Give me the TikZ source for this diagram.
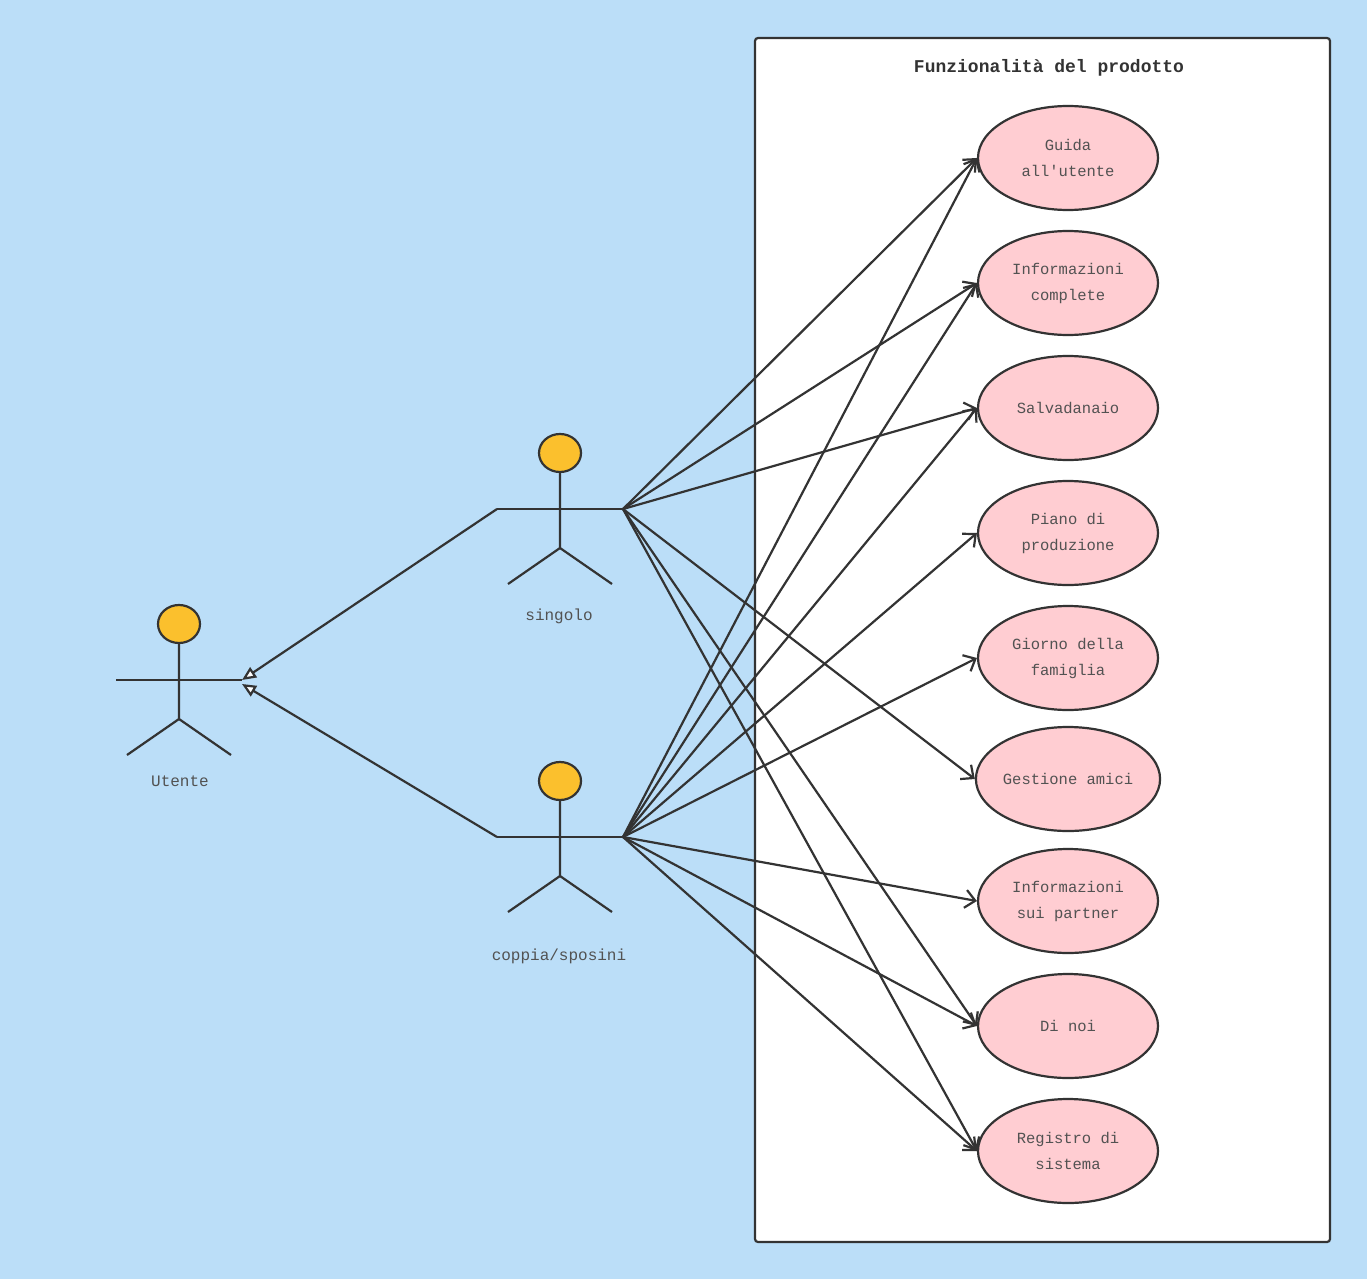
\documentclass[tikz,border=0pt]{standalone}
\usepackage{fontspec}
\setmonofont{Liberation Mono}
\usetikzlibrary{arrows.meta,shapes.geometric}
\definecolor{bg}{HTML}{BBDEF8}
\definecolor{ln}{HTML}{333333}
\definecolor{uc}{HTML}{FFCDD2}
\definecolor{hd}{HTML}{FBC02D}
\begin{document}
\begin{tikzpicture}[x=1pt,y=-1pt,
  every node/.style={font=\ttfamily\fontsize{16}{26}\selectfont, text=ln!85},
  uc/.style={ellipse, draw=ln, line width=2.2pt, fill=uc, minimum width=180pt, minimum height=104pt, align=center, inner sep=0pt, font=\ttfamily\fontsize{15.5}{26}\selectfont},
  lnk/.style={draw=ln, line width=2.2pt, -{Straight Barb[length=10pt,width=18pt]}},
  gen/.style={draw=ln, line width=2.2pt, -{Triangle[open,length=14pt,width=12pt,fill=white]}},
  act/.style={draw=ln, line width=2.2pt}]
\fill[bg] (0,0) rectangle (1367,1279);
\useasboundingbox (0,0) rectangle (1367,1279);
\draw[ln, line width=2.2pt, fill=white, rounded corners=3pt] (755,38) rectangle (1330,1242);
\node[font=\ttfamily\bfseries\fontsize{18}{18}\selectfont, text=ln] (title) at (1049,68) {Funzionalità del prodotto};
\node[uc] (u1) at (1068,158) {Guida\\all'utente};
\node[uc] (u2) at (1068,283) {Informazioni\\complete};
\node[uc] (u3) at (1068,408) {Salvadanaio};
\node[uc] (u4) at (1068,533) {Piano di\\produzione};
\node[uc] (u5) at (1068,658) {Giorno della\\famiglia};
\node[uc] (u6) at (1068,779) {Gestione amici};
\node[uc] (u7) at (1068,901) {Informazioni\\sui partner};
\node[uc] (u8) at (1068,1026) {Di noi};
\node[uc] (u9) at (1068,1151) {Registro di\\sistema};
\newcommand{\actor}[3]{%
  \draw[act, fill=hd] (#2,#3-56) ellipse (21 and 19);
  \draw[act] (#2,#3-37) -- (#2,#3+39) -- (#2-52,#3+75);
  \draw[act] (#2,#3+39) -- (#2+52,#3+75);
  \draw[act] (#2-63,#3) -- (#2+63,#3);
  \coordinate (#1L) at (#2-63,#3);
  \coordinate (#1R) at (#2+63,#3);}
\actor{s}{560}{509}
\node (slab) at (559,616) {singolo};
\actor{c}{560}{837}
\node (clab) at (559,956) {coppia/sposini};
\actor{u}{179}{680}
\node (ulab) at (180,781) {Utente};
\coordinate (uA) at (242,680);
\coordinate (uB) at (242,684);
\draw[gen] (sL) -- (uA);
\draw[gen] (cL) -- (uB);
\foreach \t in {u1,u2,u3,u6,u8,u9} \draw[lnk] (sR) -- (\t.west);
\foreach \t in {u1,u2,u3,u4,u5,u7,u8,u9} \draw[lnk] (cR) -- (\t.west);
\end{tikzpicture}
\end{document}
